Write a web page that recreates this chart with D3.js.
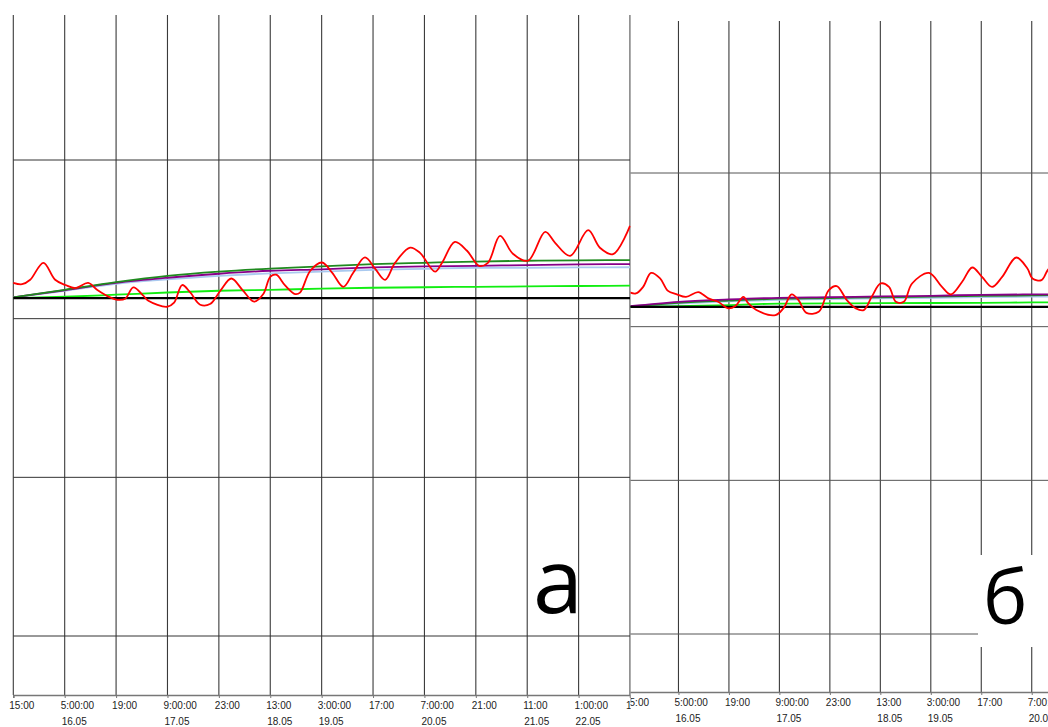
<!DOCTYPE html>
<html lang="ru">
<head>
    <meta charset="UTF-8">
    <title>а / б</title>
    <script src="https://cdn.jsdelivr.net/npm/d3@7/dist/d3.min.js"></script>
    <style>
        body { margin: 0; background: #fff; }
        svg { display: block; }
        .tick-label { font-family: "Liberation Sans", Arial, sans-serif; font-size: 10px; fill: #222; }
        .panel-label { font-family: "Open Sans", sans-serif; fill: #000; }
    </style>
</head>
<body>
<script>
    // time axis: start 15.05 15:00, one tick every 14 hours
    const startTime = new Date(2000, 4, 15, 15, 0);
    const tickHours = [0, 14, 28, 42, 56, 70, 84, 98, 112, 126, 140, 154, 168];
    const timeLabels = ['15:00', '5:00:00', '19:00', '9:00:00', '23:00', '13:00', '3:00:00',
        '17:00', '7:00:00', '21:00', '11:00', '1:00:00', '15:00'];
    const dateLabels = ['', '16.05', '', '17.05', '', '18.05', '19.05', '', '20.05', '', '21.05', '22.05', ''];
    const yGrid = [10, 0, -10, -20];

    // panel а : [hours, value]
    const redA = [[0,2.26],[2.4,2.17],[4.6,2.45],[8.2,3.52],[11.4,2.45],[14.2,2.12],[16.9,1.93],[20.4,2.25],
        [22.9,1.81],[26.4,1.34],[28.3,1.19],[30.5,1.26],[32.7,1.97],[35.4,1.45],[36.8,1.13],[41.9,0.75],
        [43.8,1.01],[46.0,2.12],[48.2,1.65],[50.9,0.88],[53.6,0.92],[56.4,1.76],[59.4,2.53],[62.4,1.82],
        [65.6,1.07],[68.1,1.55],[70.0,2.64],[71.6,2.77],[74.1,2.08],[76.8,1.55],[78.1,1.64],[80.9,3.02],
        [84.1,3.54],[86.9,2.89],[89.9,2.01],[92.6,2.89],[95.8,3.86],[98.6,3.14],[101.3,2.45],[104.0,3.52],
        [108.1,4.48],[110.8,4.15],[114.9,2.96],[116.8,3.52],[120.3,4.84],[123.6,4.28],[126.9,3.33],[129.3,3.52],
        [132.6,5.22],[136.1,4.09],[140.2,3.65],[144.9,5.47],[147.6,4.78],[151.7,3.96],[156.6,5.58],[159.8,4.47],
        [163.4,4.07],[168,5.85]];
    const smoothHours = [0, 14, 28, 42, 56, 70, 84, 98, 112, 126, 140, 154, 168];
    const darkGreenA = [1.34, 1.82, 2.30, 2.70, 2.97, 3.16, 3.30, 3.44, 3.52, 3.60, 3.65, 3.68, 3.69];
    const purpleA    = [1.34, 1.79, 2.26, 2.58, 2.83, 3.02, 3.11, 3.23, 3.29, 3.33, 3.38, 3.42, 3.44];
    const blueA      = [1.34, 1.76, 2.20, 2.48, 2.70, 2.86, 2.96, 3.08, 3.14, 3.21, 3.21, 3.23, 3.24];
    const limeA      = [1.30, 1.38, 1.51, 1.65, 1.76, 1.82, 1.89, 1.95, 1.98, 2.01, 2.03, 2.06, 2.08];
    const baseA = 1.30;

    // panel б
    const redB = [[0,2.27],[2.2,2.16],[4.2,2.59],[6.4,3.50],[8.9,3.14],[11.1,2.33],[13.4,2.12],[16.1,1.94],
        [19.5,2.25],[22.3,1.84],[25.0,1.62],[27.8,1.19],[29.8,1.34],[32.0,1.94],[33.4,1.51],[35.6,1.08],
        [40.9,0.75],[43.1,1.19],[45.4,2.10],[47.3,1.73],[49.5,0.90],[52.9,0.97],[55.7,2.38],[57.9,2.64],
        [60.7,1.73],[63.2,1.19],[65.4,1.08],[67.6,1.94],[70.1,2.81],[72.4,2.59],[74.3,1.62],[76.5,1.62],
        [78.8,2.81],[83.5,3.50],[87.1,2.59],[89.6,2.10],[92.7,2.92],[95.5,3.85],[98.2,3.24],[101.0,2.59],
        [103.8,3.24],[107.7,4.50],[110.8,3.79],[112.2,3.14],[114.7,3.03],[116.3,3.63],[118.5,4.30]];
    const darkGreenB = [1.30, 1.55, 1.70, 1.82, 1.86, 1.91, 1.95, 2.00, 2.04, 2.06, 2.08, 2.09, 2.10];
    const purpleB    = [1.32, 1.62, 1.77, 1.88, 1.92, 1.97, 2.01, 2.07, 2.10, 2.12, 2.14, 2.15, 2.16];
    const blueB      = [1.30, 1.50, 1.64, 1.74, 1.79, 1.84, 1.88, 1.92, 1.95, 1.97, 1.98, 1.99, 2.00];
    const limeB      = [1.29, 1.34, 1.40, 1.50, 1.51, 1.53, 1.54, 1.55, 1.58, 1.60, 1.61, 1.62, 1.62];
    const baseB = 1.29;

    const width = 1048;
    const height = 727;
    const hoursToDate = h => new Date(startTime.getTime() + h * 3600 * 1000);

    let svg = d3.select('body').append('svg')
        .attr('width', width)
        .attr('height', height);

    let defs = svg.append('defs');

    function drawPanel (p) {
        let g = svg.append('g');

        if (p.clipLeft !== undefined) {
            defs.append('clipPath').attr('id', p.id + '-clip')
                .append('rect')
                .attr('x', p.clipLeft).attr('y', 0)
                .attr('width', width - p.clipLeft).attr('height', height);
            g.attr('clip-path', 'url(#' + p.id + '-clip)');
            g.append('rect')
                .attr('x', p.clipLeft).attr('y', 0)
                .attr('width', width - p.clipLeft).attr('height', height)
                .attr('fill', '#fff');
        }

        let x = d3.scaleTime()
            .domain([hoursToDate(0), hoursToDate(168)])
            .range(p.xRange);
        let y = d3.scaleLinear()
            .domain([-20, 10])
            .range(p.yRange);

        // grid
        g.append('g').selectAll('line')
            .data(tickHours)
            .enter().append('line')
            .attr('x1', d => x(hoursToDate(d))).attr('x2', d => x(hoursToDate(d)))
            .attr('y1', p.top).attr('y2', p.axisY)
            .attr('stroke', '#3a3a3a').attr('stroke-width', 1.1);

        g.append('g').selectAll('line')
            .data(yGrid)
            .enter().append('line')
            .attr('x1', p.xRange[0]).attr('x2', Math.min(p.xRange[1], width))
            .attr('y1', d => y(d)).attr('y2', d => y(d))
            .attr('stroke', p.hColor).attr('stroke-width', 1);

        // axis
        let axis = d3.axisBottom(x)
            .tickValues(tickHours.map(hoursToDate))
            .tickSize(3)
            .tickFormat('');
        let ax = g.append('g')
            .attr('transform', 'translate(0,' + p.axisY + ')')
            .call(axis);
        ax.select('.domain').attr('stroke', '#777').attr('stroke-width', 1.5);
        ax.selectAll('.tick line').attr('stroke', '#777');

        g.append('g').selectAll('text')
            .data(tickHours)
            .enter().append('text')
            .attr('class', 'tick-label')
            .attr('x', d => x(hoursToDate(d)) - 4)
            .attr('y', p.axisY + 14)
            .text((d, i) => timeLabels[i]);

        g.append('g').selectAll('text')
            .data(tickHours)
            .enter().append('text')
            .attr('class', 'tick-label')
            .attr('x', d => x(hoursToDate(d)) - 3)
            .attr('y', p.axisY + 30)
            .text((d, i) => dateLabels[i]);

        // series
        let line = d3.line()
            .x(d => x(hoursToDate(d[0])))
            .y(d => y(d[1]))
            .curve(d3.curveMonotoneX);
        let wavy = d3.line()
            .x(d => x(hoursToDate(d[0])))
            .y(d => y(d[1]))
            .curve(d3.curveCatmullRom.alpha(0.5));

        let smooth = vals => smoothHours.map((h, i) => [h, vals[i]]);

        let series = [
            {data: smooth(p.blue), color: '#a9c9ef', w: 1.8, gen: line},
            {data: smooth(p.lime), color: '#11ee11', w: 1.8, gen: line},
            {data: smooth(p.darkGreen), color: '#1f8a1f', w: 1.8, gen: line},
            {data: smooth(p.purple), color: '#880088', w: 1.8, gen: line},
            {data: [[0, p.base], [168, p.base]], color: '#000', w: 2.2, gen: line},
            {data: p.red, color: '#ff0000', w: 1.8, gen: wavy}
        ];
        let order = p.purpleTop ? [0, 1, 2, 3, 4, 5] : [0, 1, 3, 2, 4, 5];
        order.forEach(k => {
            g.append('path')
                .datum(series[k].data)
                .attr('d', series[k].gen)
                .attr('fill', 'none')
                .attr('stroke', series[k].color)
                .attr('stroke-width', series[k].w)
                .attr('stroke-linejoin', 'round');
        });

        return g;
    }

    // panel а
    let gA = drawPanel({
        id: 'a', xRange: [13.3, 630], yRange: [636, 160], top: 15, axisY: 695, hColor: '#333',
        red: redA, darkGreen: darkGreenA, purple: purpleA, blue: blueA, lime: limeA, base: baseA,
        purpleTop: false
    });
    gA.append('text')
        .attr('class', 'panel-label')
        .attr('x', 533).attr('y', 613)
        .attr('font-size', 90)
        .text('а');

    // panel б
    let gB = drawPanel({
        id: 'b', xRange: [628, 1233.6], yRange: [634, 173], top: 21, axisY: 692, hColor: '#555',
        red: redB, darkGreen: darkGreenB, purple: purpleB, blue: blueB, lime: limeB, base: baseB,
        clipLeft: 630.5, purpleTop: true
    });
    gB.append('rect')
        .attr('x', 978).attr('y', 555)
        .attr('width', 70).attr('height', 92)
        .attr('fill', '#fff');
    gB.append('text')
        .attr('class', 'panel-label')
        .attr('x', 983).attr('y', 624)
        .attr('font-size', 75)
        .text('б');
</script>
</body>
</html>
